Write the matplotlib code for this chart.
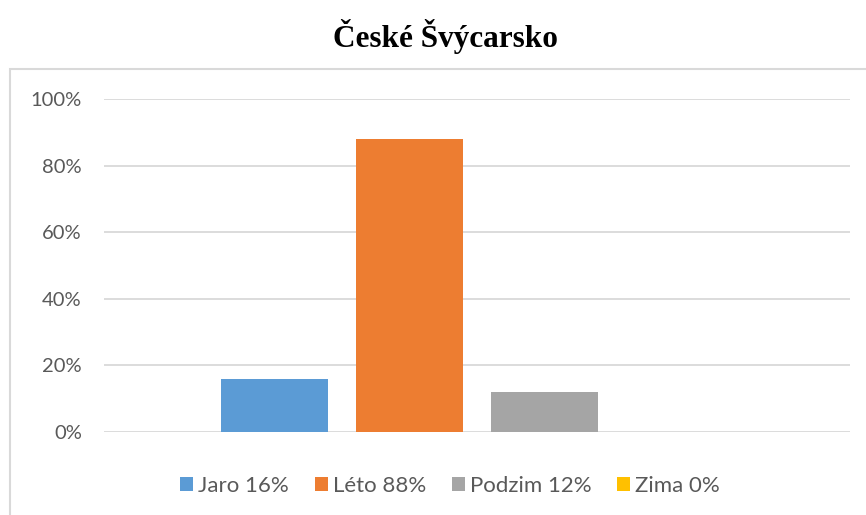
import matplotlib.pyplot as plt
from matplotlib.patches import Rectangle
from matplotlib.ticker import PercentFormatter

# data
series = ['Jaro', 'Léto', 'Podzim', 'Zima']
values = [16, 88, 12, 0]
colors = ['#5b9bd5', '#ed7d31', '#a5a5a5', '#ffc000']
title = 'České Švýcarsko'

plt.rcParams['font.family'] = ['Lato', 'DejaVu Sans']

fig = plt.figure(figsize=(8.66, 5.15), dpi=100)
ax = fig.add_axes([0.1201, 0.1612, 0.8614, 0.6466])

# rámeček grafu (zčásti mimo obrázek)
fig.patches.append(Rectangle((10 / 866, -0.05), 1.0, 1.05 - 69 / 515,
                             transform=fig.transFigure, fill=False,
                             edgecolor='#d9d9d9', linewidth=1.5))

x = list(range(len(series)))
for i, (name, v, c) in enumerate(zip(series, values, colors)):
    ax.bar(x[i], v / 100, width=0.79, color=c, label=f'{name} {v}%', zorder=3)

ax.set_xlim(-1.263, 4.263)
ax.set_ylim(0, 1)
ax.set_yticks([0, 0.2, 0.4, 0.6, 0.8, 1.0])
ax.yaxis.set_major_formatter(PercentFormatter(1.0, decimals=0))
ax.grid(axis='y', color='#d9d9d9', linewidth=1.3, zorder=0)
ax.set_xticks([])
for s in ax.spines.values():
    s.set_visible(False)
ax.tick_params(axis='y', length=0, pad=16, labelsize=14.5, labelcolor='#595959')

fig.text(446 / 866, 1 - 36 / 515, title, ha='center', va='center',
         fontsize=22.5, fontweight='bold', family='Liberation Serif')

ax.legend(loc='center', bbox_to_anchor=(450 / 866, (515 - 486) / 515),
          bbox_transform=fig.transFigure, ncol=4, frameon=False,
          fontsize=16, labelcolor='#595959', handlelength=0.6,
          handleheight=0.6, handletextpad=0.22, columnspacing=1.15)

fig.savefig('out.png', dpi=100)
